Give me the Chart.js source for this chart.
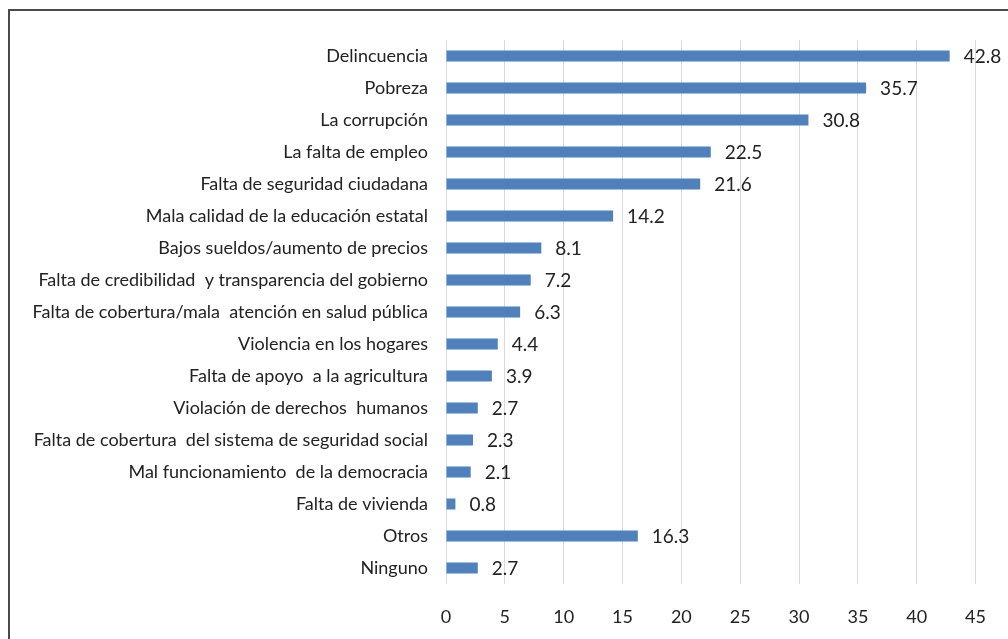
<!DOCTYPE html>
<html>
<head>
<meta charset="utf-8">
<script src="https://cdn.jsdelivr.net/npm/chart.js@4/dist/chart.umd.min.js"></script>
<style>
  html, body { margin: 0; padding: 0; background: #fff; overflow: hidden; }
  #wrap { position: relative; width: 1008px; height: 639px; }
  #frame { position: absolute; left: 8px; top: 9px; width: 1100px; height: 700px; border: 2px solid #4a4a4a; }
  canvas { position: absolute; left: 0; top: 0; }
</style>
</head>
<body>
<div id="wrap">
  <div id="frame"></div>
  <canvas id="chart" width="1008" height="639"></canvas>
</div>
<script>
var categories = [
  'Delincuencia',
  'Pobreza',
  'La corrupción',
  'La falta de empleo',
  'Falta de seguridad ciudadana',
  'Mala calidad de la educación estatal',
  'Bajos sueldos/aumento de precios',
  'Falta de credibilidad  y transparencia del gobierno',
  'Falta de cobertura/mala  atención en salud pública',
  'Violencia en los hogares',
  'Falta de apoyo  a la agricultura',
  'Violación de derechos  humanos',
  'Falta de cobertura  del sistema de seguridad social',
  'Mal funcionamiento  de la democracia',
  'Falta de vivienda',
  'Otros',
  'Ninguno'
];
var values = [42.8, 35.7, 30.8, 22.5, 21.6, 14.2, 8.1, 7.2, 6.3, 4.4, 3.9, 2.7, 2.3, 2.1, 0.8, 16.3, 2.7];
var xTicks = [0, 5, 10, 15, 20, 25, 30, 35, 40, 45];

// value labels at the end of each bar
var valueLabels = {
  id: 'valueLabels',
  afterDatasetsDraw: function (chart) {
    var ctx = chart.ctx;
    var meta = chart.getDatasetMeta(0);
    ctx.save();
    ctx.font = '19px Lato';
    ctx.fillStyle = '#222';
    ctx.textAlign = 'left';
    ctx.textBaseline = 'middle';
    meta.data.forEach(function (bar, i) {
      ctx.fillText(values[i].toFixed(1), bar.x + 14, bar.y + 1);
    });
    ctx.restore();
  }
};

new Chart(document.getElementById('chart'), {
  type: 'bar',
  data: {
    labels: categories,
    datasets: [{
      data: values,
      backgroundColor: '#4f81bd',
      borderWidth: 0,
      barPercentage: 0.34,
      categoryPercentage: 1
    }]
  },
  options: {
    indexAxis: 'y',
    responsive: false,
    animation: false,
    layout: { padding: { top: 40, right: 32, bottom: 0, left: 0 } },
    plugins: { legend: { display: false }, tooltip: { enabled: false } },
    scales: {
      x: {
        min: 0,
        max: 45,
        afterBuildTicks: function (scale) {
          scale.ticks = xTicks.map(function (v) { return { value: v }; });
        },
        afterFit: function (scale) { scale.height = 55; },
        grid: { color: '#d9d9d9', lineWidth: 1, drawTicks: false },
        border: { display: false },
        ticks: { padding: 22, color: '#222', font: { family: 'Lato', size: 18 } }
      },
      y: {
        afterFit: function (scale) { scale.width = 446; },
        grid: { display: false, drawTicks: false },
        border: { display: false },
        ticks: { padding: 18, color: '#222', font: { family: 'Lato', size: 18 } }
      }
    }
  },
  plugins: [valueLabels]
});
</script>
</body>
</html>
